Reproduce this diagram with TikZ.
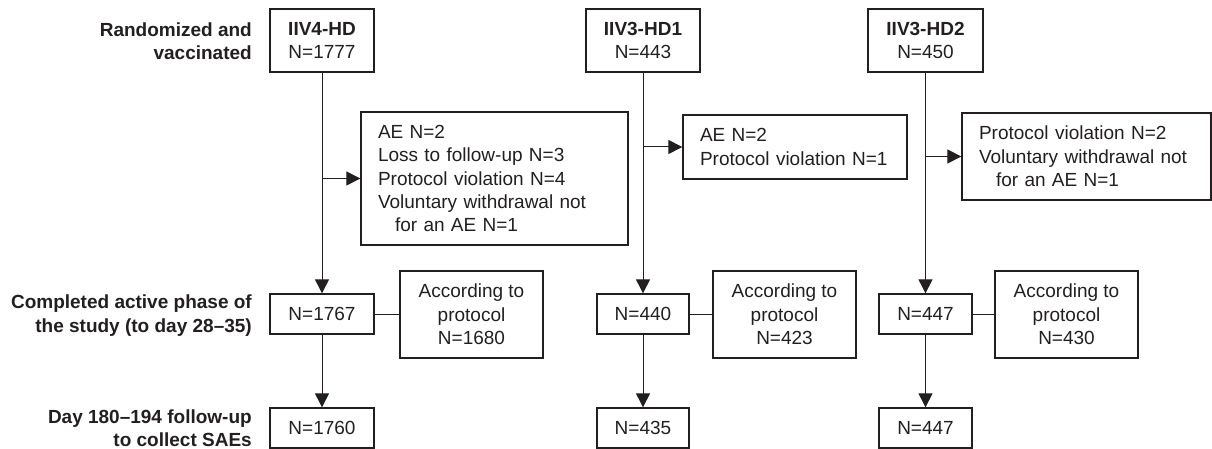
\documentclass[tikz,border=0pt]{standalone}
\usepackage{fontspec}
\setmainfont{Liberation Sans}
\usetikzlibrary{arrows.meta}
\definecolor{ink}{HTML}{231F20}
\newcommand{\fsz}{\fontsize{19}{23.3}\selectfont}
\tikzset{
  box/.style={draw=ink, line width=1.3pt, inner sep=0pt, align=center, font=\fsz, text=ink},
  sidebox/.style={box, inner xsep=17pt, align=left},
  lbl/.style={anchor=east, align=right, font=\fsz\bfseries, text=ink, inner sep=0pt},
  conn/.style={draw=ink, line width=1pt},
  arr/.style={conn, -{Triangle[length=14pt,width=14pt]}}
}
\begin{document}
\begin{tikzpicture}[x=1pt,y=-1pt]
\useasboundingbox (0,0) rectangle (1212,449);
% left labels
\node[lbl] (l1) at (252,41) {Randomized and\\vaccinated};
\node[lbl] (l2) at (252,315.5) {Completed active phase of\\the study (to day 28--35)};
\node[lbl] (l3) at (252,428.5) {Day 180--194 follow-up\\to collect SAEs};
% top boxes
\node[box, minimum width=104pt, minimum height=63pt] (t1) at (322,40.5) {\textbf{IIV4-HD}\\N=1777};
\node[box, minimum width=114pt, minimum height=63pt] (t2) at (643,40.5) {\textbf{IIV3-HD1}\\N=443};
\node[box, minimum width=115pt, minimum height=63pt] (t3) at (925.5,40.5) {\textbf{IIV3-HD2}\\N=450};
% side boxes
\node[sidebox, text width=233pt, minimum height=133pt] (s1) at (494.5,178.5) {AE N=2\\Loss to follow-up N=3\\Protocol violation N=4\\Voluntary withdrawal not\\\hspace*{17pt}for an AE N=1};
\node[sidebox, text width=190pt, minimum height=64pt] (s2) at (795,147) {AE N=2\\Protocol violation N=1};
\node[sidebox, text width=215pt, minimum height=87pt] (s3) at (1086.5,156.5) {Protocol violation N=2\\Voluntary withdrawal not\\\hspace*{17pt}for an AE N=1};
% middle boxes
\node[box, minimum width=104pt, minimum height=40pt] (m1) at (322,314) {N=1767};
\node[box, minimum width=92pt, minimum height=40pt] (m2) at (643,314) {N=440};
\node[box, minimum width=93pt, minimum height=40pt] (m3) at (925.5,314) {N=447};
% according to protocol
\node[box, minimum width=143pt, minimum height=87pt] (a1) at (471.5,314.5) {According to\\protocol\\N=1680};
\node[box, minimum width=143pt, minimum height=87pt] (a2) at (784.5,314.5) {According to\\protocol\\N=423};
\node[box, minimum width=143pt, minimum height=87pt] (a3) at (1066.5,314.5) {According to\\protocol\\N=430};
% bottom boxes
\node[box, minimum width=104pt, minimum height=40pt] (b1) at (322,428) {N=1760};
\node[box, minimum width=92pt, minimum height=40pt] (b2) at (643,428) {N=435};
\node[box, minimum width=93pt, minimum height=40pt] (b3) at (925.5,428) {N=447};
% connectors
\draw[arr] (t1.south) -- (m1.north);
\draw[arr] (t2.south) -- (m2.north);
\draw[arr] (t3.south) -- (m3.north);
\draw[arr] (t1.south |- s1.west) -- (s1.west);
\draw[arr] (t2.south |- s2.west) -- (s2.west);
\draw[arr] (t3.south |- s3.west) -- (s3.west);
\draw[conn] (m1.east) -- (m1.east -| a1.west);
\draw[conn] (m2.east) -- (m2.east -| a2.west);
\draw[conn] (m3.east) -- (m3.east -| a3.west);
\draw[arr] (m1.south) -- (b1.north);
\draw[arr] (m2.south) -- (b2.north);
\draw[arr] (m3.south) -- (b3.north);
\end{tikzpicture}
\end{document}
